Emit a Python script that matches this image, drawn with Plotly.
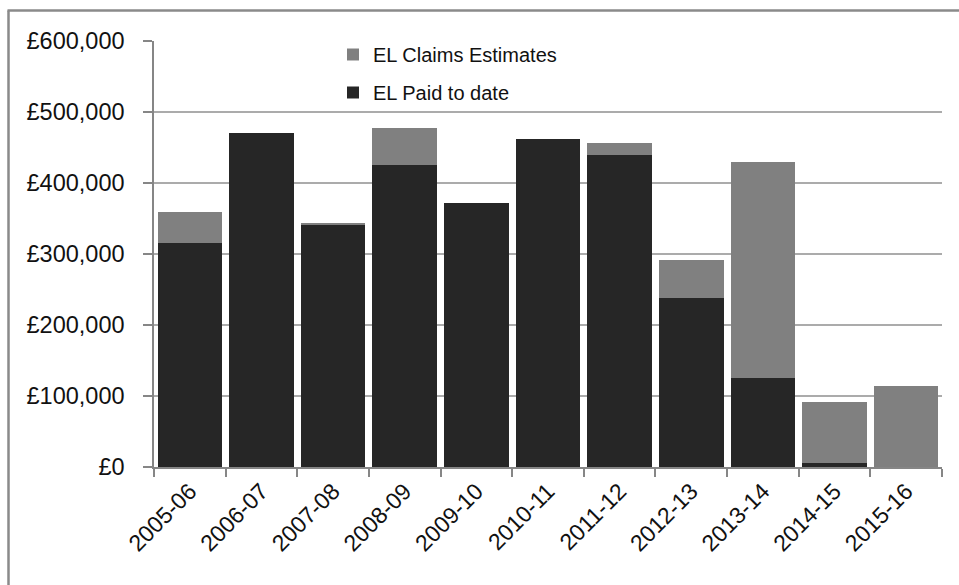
import plotly.graph_objects as go

categories = ["2005-06", "2006-07", "2007-08", "2008-09", "2009-10", "2010-11",
              "2011-12", "2012-13", "2013-14", "2014-15", "2015-16"]
paid_to_date = [315500, 470400, 340300, 425800, 371800, 461400,
                439900, 237500, 125400, 6000, 0]
claims_estimates = [43100, 0, 3400, 52200, 0, 0,
                    15900, 54000, 304200, 85000, 114500]
y_tick_values = [0, 100000, 200000, 300000, 400000, 500000, 600000]
y_tick_labels = ["£0", "£100,000", "£200,000", "£300,000", "£400,000", "£500,000", "£600,000"]

W, H = 959, 585
ML, MR, MT, MB = 154, 17, 41, 118
PW = W - ML - MR
PH = H - MT - MB

FONT = "Liberation Sans"

fig = go.Figure()
fig.add_trace(go.Bar(
    x=categories, y=paid_to_date, name="EL Paid to date",
    marker=dict(color="#262626", line=dict(width=0)),
    legendgroup="paid", legendrank=2,
))
fig.add_trace(go.Bar(
    x=categories, y=claims_estimates, name="EL Claims Estimates",
    marker=dict(color="#808080", line=dict(width=0)),
    legendgroup="est", legendrank=1,
))

def px_x(px):
    return (px - ML) / PW

def px_y(py):
    return (H - MB - py) / PH

border_color = "#8a8a8a"
shapes = [
    dict(type="line", xref="paper", yref="paper",
         x0=px_x(8.5), x1=px_x(8.5), y0=px_y(10.5), y1=px_y(600),
         line=dict(color=border_color, width=2.5)),
    dict(type="line", xref="paper", yref="paper",
         x0=px_x(7.5), x1=px_x(970), y0=px_y(10.5), y1=px_y(10.5),
         line=dict(color=border_color, width=2.5)),
]

fig.update_layout(
    width=W, height=H,
    margin=dict(l=ML, r=MR, t=MT, b=MB),
    barmode="stack",
    bargap=0.1,
    paper_bgcolor="white",
    plot_bgcolor="white",
    font=dict(family=FONT, color="#111111"),
    showlegend=True,
    legend=dict(
        x=px_x(333), y=px_y(35), xanchor="left", yanchor="top",
        traceorder="grouped", tracegroupgap=9,
        font=dict(family=FONT, size=20, color="#111111"),
        bgcolor="rgba(0,0,0,0)",
    ),
    xaxis=dict(
        type="category",
        tickangle=-45,
        tickfont=dict(family=FONT, size=23, color="#111111"),
        showline=True, linecolor="#868686", linewidth=1.5,
        ticks="outside", ticklen=8, tickcolor="#868686", tickwidth=1.5,
        tickson="boundaries",
        showgrid=False,
    ),
    yaxis=dict(
        range=[0, 600000],
        tickvals=y_tick_values, ticktext=y_tick_labels,
        tickfont=dict(family=FONT, size=23.5, color="#111111"),
        showline=True, linecolor="#868686", linewidth=1.5,
        ticks="outside", ticklen=9, tickcolor="#868686", tickwidth=1.5,
        showgrid=True, gridcolor="#ababab", gridwidth=1.5,
        zeroline=False,
        ticklabelstandoff=14,
    ),
    shapes=shapes,
)

fig.write_html("out.html")
